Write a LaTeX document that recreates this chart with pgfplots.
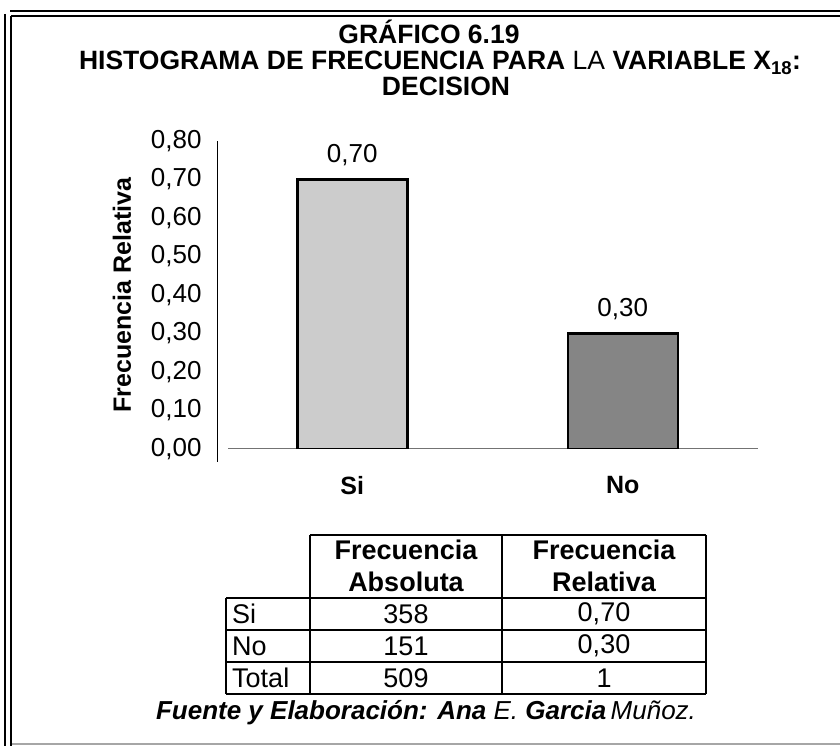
\documentclass[border=0pt]{standalone}
\usepackage{fontspec}
\setmainfont{Liberation Sans}
\usepackage{pgfplots}
\pgfplotsset{compat=1.18}

\newcommand{\fs}[1]{\fontsize{#1}{#1}\selectfont}

\begin{document}
\begin{tikzpicture}[x=1pt,y=1pt]
\useasboundingbox (0,0) rectangle (840,746);

% double frame (top and left), thin grey bottom rule
\draw[line width=2pt] (10,735) -- (840,735);
\draw[line width=2pt] (5,732) -- (5,0);
\draw[line width=2pt] (11,730) -- (840,730);
\draw[line width=2pt] (11,730) -- (11,0);
\draw[black!35, line width=1.2pt] (12,2) -- (840,2);

% title
\node[font=\fs{26.5}\bfseries, anchor=base] at (429,702) {GRÁFICO 6.19};
\node[font=\fs{26.5}\bfseries, anchor=base] at (440,676) {HISTOGRAMA DE FRECUENCIA PARA \textmd{LA} VARIABLE X\textsubscript{18}:};
\node[font=\fs{26.5}\bfseries, anchor=base] at (446,650) {DECISION};

\begin{axis}[
  at={(217pt,297pt)}, anchor=south west,
  scale only axis, width=541pt, height=308pt,
  ybar, bar width=110pt, bar shift=0pt,
  xmin=-0.5, xmax=1.5, ymin=0, ymax=0.8,
  axis x line*=bottom, axis y line*=left,
  x axis line style={black!55, line width=1pt, shorten <=11pt},
  y axis line style={black, line width=1pt, shorten <=-13pt},
  xtick={0,1}, xticklabels={\textbf{Si},\textbf{No}},
  x tick label style={font=\fs{25}, yshift=-20pt},
  xtick style={draw=none},
  extra x ticks={0.5,1.5}, extra x tick labels={},
  extra x tick style={tick style={draw=black, line width=1pt}, major tick length=7pt, tick align=outside},
  ytick={0,0.1,0.2,0.3,0.4,0.5,0.6,0.7,0.8}, ytick style={draw=none},
  y tick label style={font=\fs{26}, xshift=-12pt},
  ylabel={\textbf{Frecuencia Relativa}},
  ylabel style={font=\fs{25}, at={(axis description cs:-0.1756,0.5)}, anchor=center},
  nodes near coords,
  every node near coord/.append style={font=\fs{26}, anchor=base, yshift=17pt, black},
  /pgf/number format/.cd, fixed, fixed zerofill, precision=2, use comma, assume math mode=true
]
\addplot[fill=black!20, draw=black, line width=2.5pt] coordinates {(0,0.70)};
\addplot[fill=black!48, draw=black, line width=2.5pt] coordinates {(1,0.30)};
\end{axis}

% table
\begin{scope}[line width=1.2pt]
\draw (310,211) -- (706,211);
\draw (226,148) -- (706,148);
\draw (226,116) -- (706,116);
\draw (226,84) -- (706,84);
\draw (226,52) -- (706,52);
\draw (226,148) -- (226,52);
\draw (310,211) -- (310,52);
\draw (502,211) -- (502,52);
\draw (706,211) -- (706,52);
\end{scope}
\begin{scope}[every node/.style={font=\fs{27}, inner sep=0pt}]
\node[font=\fs{27}\bfseries] at (406,196) {Frecuencia};
\node[font=\fs{27}\bfseries] at (406,164) {Absoluta};
\node[font=\fs{27}\bfseries] at (604,196) {Frecuencia};
\node[font=\fs{27}\bfseries] at (604,164) {Relativa};
\node[anchor=west] at (232,132) {Si};
\node[anchor=west] at (232,100) {No};
\node[anchor=west] at (232,68) {Total};
\node at (406,132) {358};
\node at (406,100) {151};
\node at (406,68) {509};
\node at (604,132) {0,70};
\node at (604,100) {0,30};
\node at (604,68) {1};
\end{scope}

% footer
\node[font=\fs{26}\itshape] at (426,33)
  {\textbf{Fuente y Elaboración:} \textbf{Ana} E. \textbf{Garcia}\,Muñoz.};
\end{tikzpicture}
\end{document}
